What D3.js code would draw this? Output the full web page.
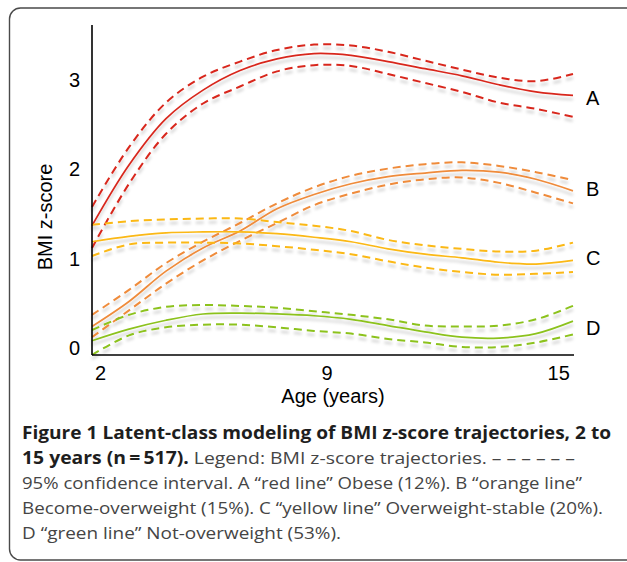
<!DOCTYPE html>
<html>
<head>
<meta charset="utf-8">
<script src="https://cdn.jsdelivr.net/npm/d3@7"></script>
<style>
  body { margin: 0; background: #fff; }
  svg { display: block; }
</style>
</head>
<body>
<div id="chart-area"></div>
<script>
// data: BMI z-score by age (years)
var ages = [2, 3, 4, 5, 6, 7, 8, 9, 10, 11, 12, 13, 14, 15];

var redMid = [1.37, 2.05, 2.57, 2.89, 3.11, 3.24, 3.30, 3.28, 3.21, 3.13, 3.05, 2.95, 2.87, 2.83];
var redHi  = [1.58, 2.25, 2.75, 3.04, 3.21, 3.34, 3.40, 3.39, 3.32, 3.22, 3.12, 3.03, 2.99, 3.07];
var redLo  = [1.12, 1.84, 2.40, 2.74, 2.93, 3.10, 3.17, 3.16, 3.07, 2.97, 2.87, 2.75, 2.68, 2.59];

var orangeMid = [0.24, 0.52, 0.86, 1.12, 1.31, 1.56, 1.72, 1.84, 1.92, 1.96, 1.99, 1.97, 1.89, 1.76];
var orangeHi  = [0.37, 0.65, 0.95, 1.19, 1.40, 1.62, 1.80, 1.93, 2.01, 2.06, 2.08, 2.04, 1.97, 1.88];
var orangeLo  = [0.12, 0.42, 0.72, 0.98, 1.20, 1.40, 1.60, 1.73, 1.83, 1.89, 1.91, 1.85, 1.74, 1.62];

var yellowMid = [1.19, 1.25, 1.29, 1.30, 1.30, 1.28, 1.24, 1.19, 1.11, 1.05, 1.01, 0.96, 0.94, 0.98];
var yellowHi  = [1.38, 1.42, 1.44, 1.45, 1.45, 1.41, 1.37, 1.31, 1.21, 1.15, 1.11, 1.08, 1.09, 1.18];
var yellowLo  = [1.03, 1.16, 1.18, 1.18, 1.17, 1.14, 1.10, 1.05, 0.97, 0.90, 0.85, 0.82, 0.83, 0.85];

var greenMid = [0.08, 0.21, 0.31, 0.38, 0.39, 0.38, 0.36, 0.32, 0.25, 0.18, 0.12, 0.11, 0.16, 0.30];
var greenHi  = [0.20, 0.37, 0.46, 0.48, 0.47, 0.45, 0.41, 0.37, 0.32, 0.25, 0.24, 0.25, 0.32, 0.47];
var greenLo  = [-0.08, 0.14, 0.23, 0.26, 0.26, 0.23, 0.19, 0.16, 0.10, 0.06, 0.01, 0.01, 0.06, 0.15];

var classLetters = ["A", "B", "C", "D"];
var classColors  = ["#d8281d", "#ef8b3b", "#fbb814", "#8cc21e"];
var letterValues = [2.80, 1.78, 1.01, 0.22];

var yTicks = [0, 1, 2, 3];
// the figure's x labels are not evenly spaced
var xTickAges   = [2.22, 8.34, 14.6];
var xTickLabels = ["2", "9", "15"];

var captionLines = [
  [["Figure 1 Latent-class modeling of BMI z-score trajectories, 2 to", true]],
  [["15 years (n\u2009=\u2009517).", true], [" Legend: BMI z-score trajectories. \u2013 \u2013 \u2013 \u2013 \u2013 \u2013", false]],
  [["95% confidence interval. A \u201cred line\u201d Obese (12%). B \u201corange line\u201d", false]],
  [["Become-overweight (15%). C \u201cyellow line\u201d Overweight-stable (20%).", false]],
  [["D \u201cgreen line\u201d Not-overweight (53%).", false]]
];
var captionWidths = [589, 553, 560, 581, 319];

var series = [
  { mid: redMid, hi: redHi, lo: redLo },
  { mid: orangeMid, hi: orangeHi, lo: orangeLo },
  { mid: yellowMid, hi: yellowHi, lo: yellowLo },
  { mid: greenMid, hi: greenHi, lo: greenLo }
];

var W = 627, H = 562;
var labelFont = "'Liberation Sans', Arial, sans-serif";

var svg = d3.select("#chart-area").append("svg")
    .attr("width", W)
    .attr("height", H);

// soft shadow under the curves
var defs = svg.append("defs");
var f = defs.append("filter").attr("id", "shadow")
    .attr("x", "-5%").attr("y", "-20%").attr("width", "110%").attr("height", "160%");
f.append("feGaussianBlur").attr("in", "SourceAlpha").attr("stdDeviation", 1.6).attr("result", "b");
f.append("feOffset").attr("in", "b").attr("dy", 4).attr("result", "o");
f.append("feFlood").attr("flood-color", "#000").attr("flood-opacity", 0.2).attr("result", "c");
f.append("feComposite").attr("in", "c").attr("in2", "o").attr("operator", "in").attr("result", "s");
var fm = f.append("feMerge");
fm.append("feMergeNode").attr("in", "s");
fm.append("feMergeNode").attr("in", "SourceGraphic");

// frame
svg.append("rect")
    .attr("x", 9.5).attr("y", 8)
    .attr("width", 640).attr("height", 552)
    .attr("rx", 11)
    .attr("fill", "none")
    .attr("stroke", "#4a4a4a")
    .attr("stroke-width", 1.4);

var xScale = d3.scaleLinear().domain([2, 15]).range([92, 573]);
var yScale = d3.scaleLinear().domain([-0.08, 3.62]).range([355, 25]);

var line = d3.line()
    .x(function(d) { return xScale(d[0]); })
    .y(function(d) { return yScale(d[1]); })
    .curve(d3.curveCatmullRom.alpha(0.5));

var plot = svg.append("g").attr("filter", "url(#shadow)");

series.forEach(function(s, i) {
  ["hi", "lo"].forEach(function(k) {
    plot.append("path")
        .datum(ages.map(function(a, j) { return [a, s[k][j]]; }))
        .attr("d", line)
        .attr("fill", "none")
        .attr("stroke", classColors[i])
        .attr("stroke-width", 2)
        .attr("stroke-dasharray", "8,5");
  });
  plot.append("path")
      .datum(ages.map(function(a, j) { return [a, s.mid[j]]; }))
      .attr("d", line)
      .attr("fill", "none")
      .attr("stroke", classColors[i])
      .attr("stroke-width", 1.7);
});

// axes
var yAxis = d3.axisLeft(yScale).tickValues(yTicks).tickSize(0).tickPadding(12)
    .tickFormat(d3.format("d"));
var gy = svg.append("g")
    .attr("transform", "translate(" + xScale(2) + ",0)")
    .call(yAxis);

var xAxis = d3.axisBottom(xScale).tickValues(xTickAges).tickSize(0).tickPadding(11)
    .tickFormat(function(d, i) { return xTickLabels[i]; });
var gx = svg.append("g")
    .attr("transform", "translate(0," + yScale.range()[0] + ")")
    .call(xAxis);

[gx, gy].forEach(function(g) {
  g.select(".domain").attr("stroke", "#000").attr("stroke-width", 1.6);
  g.selectAll("text")
      .attr("font-family", labelFont)
      .attr("font-size", "20px")
      .attr("fill", "#000");
});
gy.select(".domain").attr("d", "M0," + yScale.range()[0] + "V" + yScale.range()[1]);
gx.select(".domain").attr("d", "M" + xScale(2) + ",0H" + (xScale(15) + 1));

// axis titles
svg.append("text")
    .attr("x", 333).attr("y", 403)
    .attr("text-anchor", "middle")
    .attr("font-family", labelFont)
    .attr("font-size", "20px")
    .text("Age (years)");

svg.append("text")
    .attr("transform", "translate(52,217) rotate(-90)")
    .attr("text-anchor", "middle")
    .attr("font-family", labelFont)
    .attr("font-size", "20px")
    .text("BMI z-score");

// class letters
classLetters.forEach(function(l, i) {
  svg.append("text")
      .attr("x", xScale(15) + 13)
      .attr("y", yScale(letterValues[i]))
      .attr("dy", "0.35em")
      .attr("font-family", labelFont)
      .attr("font-size", "20px")
      .text(l);
});

// caption
captionLines.forEach(function(parts, i) {
  var t = svg.append("text")
      .attr("x", 22)
      .attr("y", 439 + i * 25)
      .attr("font-family", "'Open Sans', sans-serif")
      .attr("font-size", "17px")
      .attr("textLength", captionWidths[i])
      .attr("lengthAdjust", "spacingAndGlyphs");
  parts.forEach(function(p) {
    t.append("tspan")
        .attr("font-weight", p[1] ? 700 : 400)
        .attr("fill", p[1] ? "#1e1e1e" : "#454545")
        .text(p[0]);
  });
});
</script>
</body>
</html>
